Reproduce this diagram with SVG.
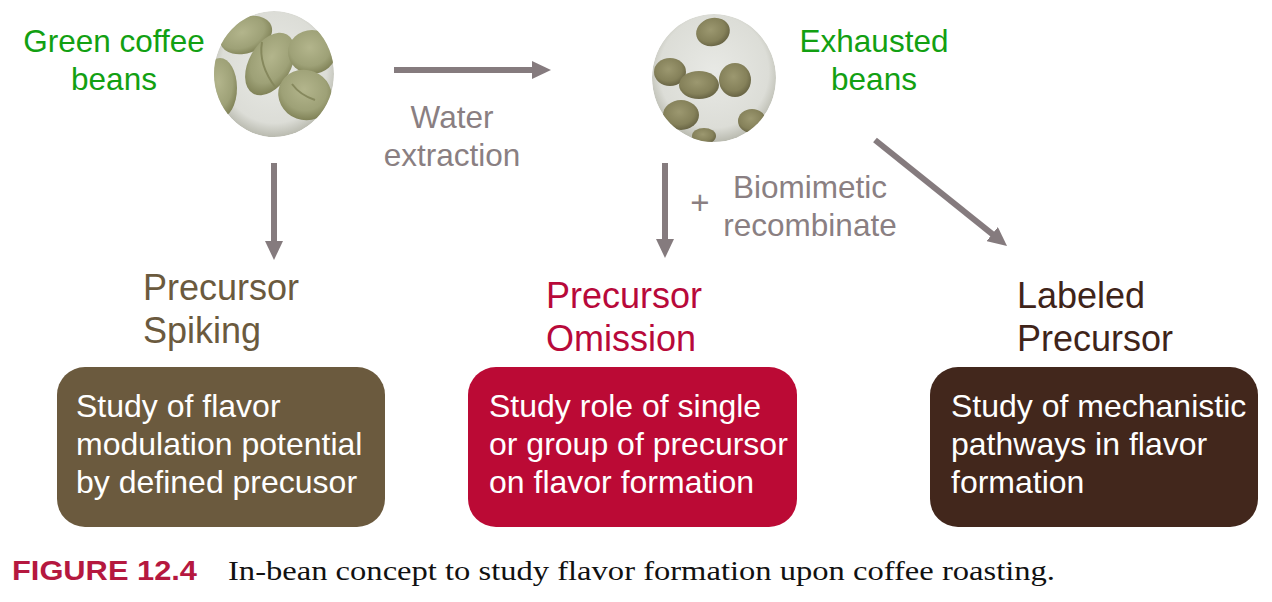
<svg xmlns="http://www.w3.org/2000/svg" width="1272" height="602" viewBox="0 0 1272 602">
<style>
  .lbl{font-family:"Liberation Sans",Arial,sans-serif;font-size:31.5px}
  .green{fill:#12a012}
  .gray{fill:#8a7f82}
  .head{font-family:"Liberation Sans",Arial,sans-serif;font-size:36px}
  .box{font-family:"Liberation Sans",Arial,sans-serif;font-size:32px;fill:#ffffff}
  .arrow{stroke:#857b7e;stroke-width:6;fill:none;marker-end:url(#ah)}
  .bean1{fill:url(#beanG)}
  .bean2{fill:url(#beanE)}
</style>
<defs>
  <marker id="ah" viewBox="0 0 19 18" refX="1" refY="9" markerWidth="19" markerHeight="18" markerUnits="userSpaceOnUse" orient="auto">
    <path d="M0,0 L19,9 L0,18 z" fill="#857b7e"/>
  </marker>
  <radialGradient id="bg1" cx="0.5" cy="0.45" r="0.55">
    <stop offset="0" stop-color="#e8e9e5"/>
    <stop offset="0.8" stop-color="#dcddd7"/>
    <stop offset="1" stop-color="#b9baaf"/>
  </radialGradient>
  <radialGradient id="beanG" cx="0.45" cy="0.4" r="0.6">
    <stop offset="0" stop-color="#b3b58c"/>
    <stop offset="0.7" stop-color="#9ea177"/>
    <stop offset="1" stop-color="#828459"/>
  </radialGradient>
  <radialGradient id="beanE" cx="0.45" cy="0.4" r="0.6">
    <stop offset="0" stop-color="#9c9870"/>
    <stop offset="0.7" stop-color="#85815a"/>
    <stop offset="1" stop-color="#696545"/>
  </radialGradient>
  <clipPath id="c1"><ellipse cx="274" cy="74" rx="60" ry="63"/></clipPath>
  <clipPath id="c2"><ellipse cx="714" cy="78" rx="62" ry="64"/></clipPath>
</defs>

<g id="green-beans">
  <g clip-path="url(#c1)">
    <ellipse cx="274" cy="74" rx="60" ry="63" fill="url(#bg1)"/>
    <ellipse class="bean1" cx="246" cy="35" rx="27" ry="18" transform="rotate(-20 246 35)"/>
    <ellipse class="bean1" cx="220" cy="88" rx="17" ry="30"/>
    <ellipse class="bean1" cx="270" cy="64" rx="21" ry="34" transform="rotate(30 270 64)"/>
    <ellipse class="bean1" cx="312" cy="52" rx="24" ry="22"/>
    <ellipse class="bean1" cx="305" cy="95" rx="27" ry="25" transform="rotate(20 305 95)"/>
    <path d="M262,42 Q258,65 276,88" stroke="#86885d" stroke-width="2" fill="none"/>
    <path d="M292,84 Q300,95 315,100" stroke="#86885d" stroke-width="2" fill="none"/>
  </g>
  <text class="lbl green" text-anchor="middle" x="114" y="52">Green coffee</text>
  <text class="lbl green" text-anchor="middle" x="114" y="90">beans</text>
</g>

<g id="exhausted-beans">
  <g clip-path="url(#c2)">
    <ellipse cx="714" cy="78" rx="62" ry="64" fill="url(#bg1)"/>
    <ellipse class="bean2" cx="713" cy="32" rx="17" ry="14" transform="rotate(-15 713 32)"/>
    <ellipse class="bean2" cx="670" cy="72" rx="16" ry="14"/>
    <ellipse class="bean2" cx="699" cy="85" rx="20" ry="14"/>
    <ellipse class="bean2" cx="735" cy="80" rx="16" ry="17"/>
    <ellipse class="bean2" cx="681" cy="115" rx="18" ry="15"/>
    <ellipse class="bean2" cx="752" cy="121" rx="14" ry="12"/>
    <ellipse class="bean2" cx="704" cy="136" rx="12" ry="8"/>
  </g>
  <text class="lbl green" text-anchor="middle" x="874" y="52">Exhausted</text>
  <text class="lbl green" text-anchor="middle" x="874" y="90">beans</text>
</g>

<g id="connectors">
  <line class="arrow" x1="394" y1="70" x2="533" y2="70"/>
  <line class="arrow" x1="274" y1="163" x2="274" y2="242"/>
  <line class="arrow" x1="665" y1="163" x2="665" y2="240"/>
  <line class="arrow" x1="875" y1="140" x2="993" y2="234.7"/>
  <text class="lbl gray" text-anchor="middle" x="452" y="128">Water</text>
  <text class="lbl gray" text-anchor="middle" x="452" y="166">extraction</text>
  <text class="lbl gray" text-anchor="middle" x="700" y="214" style="font-size:33px">+</text>
  <text class="lbl gray" text-anchor="middle" x="810" y="198">Biomimetic</text>
  <text class="lbl gray" text-anchor="middle" x="810" y="236">recombinate</text>
</g>

<g id="spiking">
  <text class="head" fill="#6b5a3e" x="143" y="300">Precursor</text>
  <text class="head" fill="#6b5a3e" x="143" y="343">Spiking</text>
  <rect x="57" y="367" width="328" height="160" rx="28" fill="#6b5a3e"/>
  <text class="box" x="76" y="417">Study of flavor</text>
  <text class="box" x="76" y="455">modulation potential</text>
  <text class="box" x="76" y="493">by defined precusor</text>
</g>

<g id="omission">
  <text class="head" fill="#b8093a" x="546" y="308">Precursor</text>
  <text class="head" fill="#b8093a" x="546" y="351">Omission</text>
  <rect x="468" y="367" width="329" height="160" rx="28" fill="#bb0a35"/>
  <text class="box" x="489" y="417">Study role of single</text>
  <text class="box" x="489" y="455">or group of precursor</text>
  <text class="box" x="489" y="493">on flavor formation</text>
</g>

<g id="labeled">
  <text class="head" fill="#3f2419" x="1017" y="308">Labeled</text>
  <text class="head" fill="#3f2419" x="1017" y="351">Precursor</text>
  <rect x="930" y="367" width="328" height="160" rx="28" fill="#42271c"/>
  <text class="box" x="951" y="417">Study of mechanistic</text>
  <text class="box" x="951" y="455">pathways in flavor</text>
  <text class="box" x="951" y="493">formation</text>
</g>

<g id="caption">
  <text x="12" y="580" font-family="'Liberation Sans',Arial,sans-serif" font-weight="bold" font-size="28" fill="#b5183f" textLength="185" lengthAdjust="spacingAndGlyphs">FIGURE 12.4</text>
  <text x="228" y="580" font-family="'Liberation Serif','Times New Roman',serif" font-size="28" fill="#111111" textLength="827" lengthAdjust="spacingAndGlyphs">In-bean concept to study flavor formation upon coffee roasting.</text>
</g>
</svg>
